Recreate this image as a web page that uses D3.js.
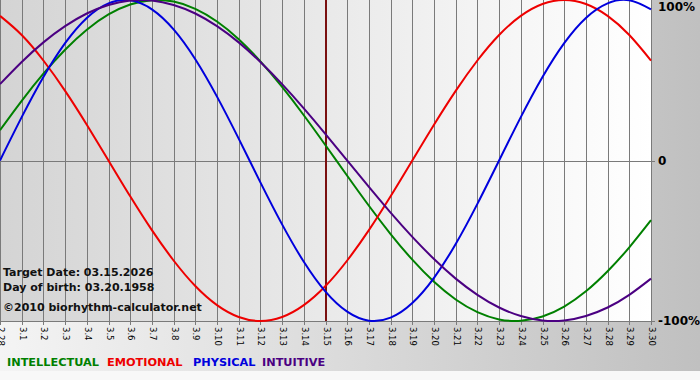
<!DOCTYPE html>
<html>
<head>
<meta charset="utf-8">
<script src="https://cdn.jsdelivr.net/npm/d3@7"></script>
<style>
html,body{margin:0;padding:0;background:#fff;}
svg{display:block;font-family:"DejaVu Sans",Verdana,sans-serif;}
</style>
</head>
<body>
<svg id="chart" width="700" height="380"></svg>
<script>
// ---- data ----
const days = ["2.28","3.1","3.2","3.3","3.4","3.5","3.6","3.7","3.8","3.9","3.10","3.11","3.12","3.13","3.14","3.15","3.16","3.17","3.18","3.19","3.20","3.21","3.22","3.23","3.24","3.25","3.26","3.27","3.28","3.29","3.30"];
const intellectual = [0.189,0.372,0.541,0.690,0.815,0.910,0.972,0.999,0.990,0.945,0.866,0.756,0.618,0.458,0.282,0.095,-0.095,-0.282,-0.458,-0.618,-0.756,-0.866,-0.945,-0.990,-0.999,-0.972,-0.910,-0.815,-0.690,-0.541,-0.372];
const emotional = [0.901,0.782,0.623,0.434,0.223,0.000,-0.223,-0.434,-0.623,-0.782,-0.901,-0.975,-1.000,-0.975,-0.901,-0.782,-0.623,-0.434,-0.223,0.000,0.223,0.434,0.623,0.782,0.901,0.975,1.000,0.975,0.901,0.782,0.623];
const physical = [0.000,0.270,0.520,0.731,0.888,0.979,0.998,0.942,0.817,0.631,0.398,0.136,-0.136,-0.398,-0.631,-0.817,-0.942,-0.998,-0.979,-0.888,-0.731,-0.520,-0.270,0.000,0.270,0.520,0.731,0.888,0.979,0.998,0.942];
const intuitive = [0.476,0.614,0.736,0.837,0.916,0.969,0.997,0.997,0.969,0.916,0.837,0.736,0.614,0.476,0.325,0.165,0.000,-0.165,-0.325,-0.476,-0.614,-0.736,-0.837,-0.916,-0.969,-0.997,-0.997,-0.969,-0.916,-0.837,-0.736];
const yTickValues = [1, 0, -1];
const yTickLabels = ["100%", "0", "-100%"];
const targetDay = "3.15";
const infoLines = ["Target Date: 03.15.2026", "Day of birth: 03.20.1958", "©2010 biorhythm-calculator.net"];
const legendNames = ["INTELLECTUAL", "EMOTIONAL", "PHYSICAL", "INTUITIVE"];

// ---- drawing ----
const svg = d3.select("#chart");
const W = 700, H = 380;
const plotL = 0, plotR = 651, plotT = 0, plotB = 321;

const defs = svg.append("defs");
const g1 = defs.append("linearGradient").attr("id","bgOuter").attr("x1","0").attr("x2","1").attr("y1","0").attr("y2","0");
g1.append("stop").attr("offset","0").attr("stop-color","#f4f4f4");
g1.append("stop").attr("offset","1").attr("stop-color","#c0c0c0");
const g2 = defs.append("linearGradient").attr("id","bgPlot").attr("x1","0").attr("x2","1").attr("y1","0").attr("y2","0");
g2.append("stop").attr("offset","0").attr("stop-color","#d4d4d4");
g2.append("stop").attr("offset","1").attr("stop-color","#ffffff");

svg.append("rect").attr("width",W).attr("height",H).attr("fill","url(#bgOuter)");
svg.append("rect").attr("y",371).attr("width",W).attr("height",9).attr("fill","#f8f8f8");
svg.append("rect").attr("x",plotL).attr("y",plotT).attr("width",plotR-plotL).attr("height",plotB-plotT).attr("fill","url(#bgPlot)");

const x = d3.scalePoint().domain(days).range([plotL, plotR]);
const y = d3.scaleLinear().domain([-1, 1]).range([plotB, plotT]);
const px = v => Math.round(v) + 0.5;

// vertical grid lines + ticks
svg.append("g").selectAll("line").data(days).join("line")
  .attr("x1", d => px(x(d))).attr("x2", d => px(x(d)))
  .attr("y1", plotT).attr("y2", plotB + 4)
  .attr("stroke", "#7a7a7a").attr("stroke-width", 1);

// horizontal lines
svg.append("g").selectAll("line").data([0, -1]).join("line")
  .attr("x1", plotL).attr("x2", plotR + 4)
  .attr("y1", d => px(y(d))).attr("y2", d => px(y(d)))
  .attr("stroke", "#7a7a7a").attr("stroke-width", 1);

// x tick labels (rotated)
svg.append("g").selectAll("text").data(days).join("text")
  .attr("transform", d => `translate(${px(x(d))},${plotB + 6}) rotate(90)`)
  .attr("dy", "0.35em")
  .attr("font-size", "8.5px")
  .attr("fill", "#000")
  .text(d => d);

// y labels on the right
svg.append("g").selectAll("text").data(yTickValues).join("text")
  .attr("x", 658)
  .attr("y", (d) => Math.max(y(d), 7))
  .attr("dy", "0.37em")
  .attr("font-size", "12px").attr("font-weight", "bold").attr("fill", "#000")
  .text((d, i) => yTickLabels[i]);

// target date line
svg.append("line")
  .attr("x1", x(targetDay) + 0.5).attr("x2", x(targetDay) + 0.5)
  .attr("y1", plotT).attr("y2", plotB)
  .attr("stroke", "#7a1010").attr("stroke-width", 2);

// curves
const series = [
  {name: legendNames[0], values: intellectual, color: "#008000"},
  {name: legendNames[1], values: emotional, color: "#ee0000"},
  {name: legendNames[2], values: physical, color: "#0000dd"},
  {name: legendNames[3], values: intuitive, color: "#4b0082"}
];
const line = d3.line()
  .x((v, i) => x(days[i]))
  .y(v => y(v))
  .curve(d3.curveNatural);
svg.append("g").selectAll("path").data(series).join("path")
  .attr("d", s => line(s.values))
  .attr("fill", "none")
  .attr("stroke", s => s.color)
  .attr("stroke-width", 2);

// info text
svg.append("g").selectAll("text").data(infoLines).join("text")
  .attr("x", 3)
  .attr("y", (d, i) => [276, 291, 311][i])
  .attr("font-size", "11px").attr("font-weight", "bold").attr("fill", "#111")
  .text(d => d);

// legend
const legendX = [7, 107, 193, 262];
svg.append("g").selectAll("text").data(series).join("text")
  .attr("x", (s, i) => legendX[i])
  .attr("y", 366)
  .attr("font-size", "11.3px").attr("font-weight", "bold")
  .attr("fill", s => s.color)
  .text(s => s.name);
</script>
</body>
</html>
